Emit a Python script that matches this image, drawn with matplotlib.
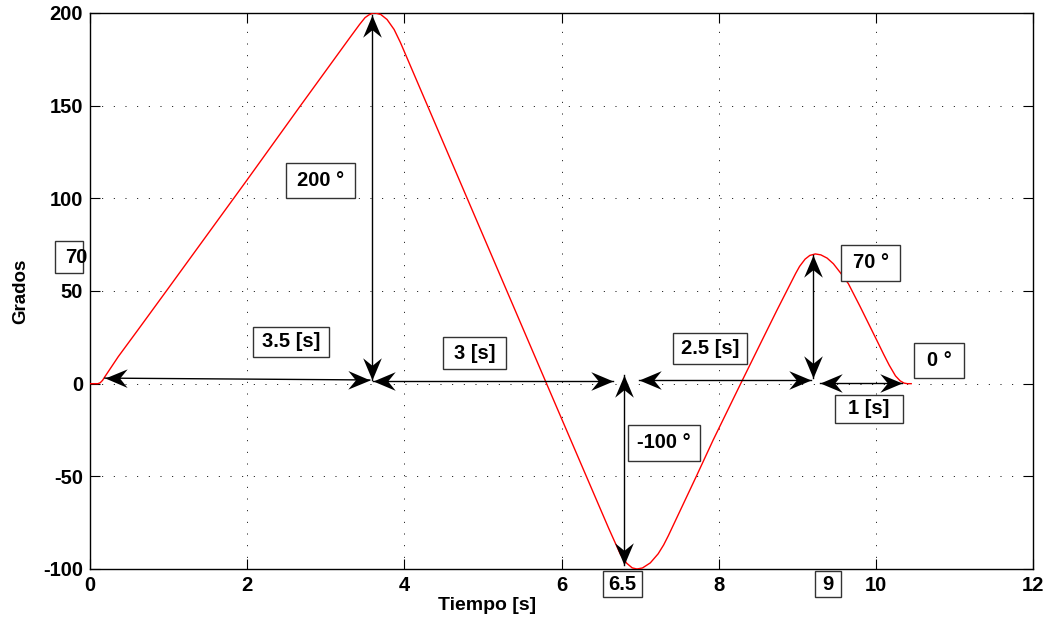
import numpy as np
import matplotlib
matplotlib.use("Agg")
import matplotlib.pyplot as plt
from matplotlib.path import Path
from matplotlib.patches import Rectangle

plt.rcParams['font.family'] = ['Liberation Sans', 'DejaVu Sans']
plt.rcParams['font.weight'] = 'bold'
plt.rcParams['axes.unicode_minus'] = False

# ---- data ----
t_curve = [0.0, 0.1, 0.13, 0.16, 0.19, 0.25, 0.36, 0.61, 0.98, 2.0, 2.67, 3.3, 3.43,
           3.5, 3.55, 3.6, 3.63, 3.7, 3.78, 3.87, 3.95, 4.05, 5.81, 6.30,
           6.6, 6.69, 6.75, 6.83, 6.9, 6.96, 7.03, 7.13, 7.23, 7.30, 7.36, 7.72, 7.93,
           8.28, 8.53, 8.74, 8.98, 9.03, 9.1, 9.16, 9.23, 9.3, 9.38, 9.46, 9.55,
           9.65, 9.80, 10.01, 10.1, 10.17, 10.25, 10.31, 10.36, 10.4, 10.45]
y_curve = [0.0, 0.0, 0.5, 1.8, 3.8, 7.6, 14.6, 29.0, 50.5, 110.0, 149.5, 186.3, 193.8,
           197.5, 199.0, 199.9, 200.0, 199.2, 196.5, 191.1, 184.1, 174.2, 0.0, -48.4,
           -78.0, -86.5, -92.1, -96.9, -99.4, -100.0, -99.45, -96.7, -91.8, -87.0, -82.0, -49.6, -30.4,
           0.0, 21.5, 39.5, 59.5, 63.3, 67.2, 69.2, 70.0, 69.5, 67.75, 64.7, 59.8,
           54.0, 41.6, 23.6, 15.8, 10.0, 4.2, 1.5, 0.3, 0.0, 0.0]

x_ticks = [0, 2, 4, 6, 8, 10, 12]
y_ticks = [-100, -50, 0, 50, 100, 150, 200]
x_label = "Tiempo [s]"
y_label = "Grados"

# annotation arrows: (x0, y0, x1, y1)
arrows = [
    (0.19, 3.0, 3.56, 2.0),
    (3.585, 2.0, 3.585, 199.0),
    (3.60, 1.6, 6.66, 1.6),
    (6.79, 4.7, 6.79, -97.8),
    (6.98, 2.0, 9.18, 2.0),
    (9.205, 2.9, 9.205, 69.4),
    (9.29, 0.5, 10.33, 0.5),
]

# annotation boxes: (text, x_left, x_right, y_bottom, y_top)
boxes = [
    ("200 °", 2.494, 3.372, 100.2, 119.1),
    ("3.5 [s]", 2.074, 3.041, 14.4, 30.6),
    ("3 [s]", 4.488, 5.293, 7.8, 25.0),
    ("2.5 [s]", 7.42, 8.36, 10.6, 27.2),
    ("-100 °", 6.85, 7.76, -41.6, -22.3),
    ("70 °", 9.557, 10.31, 55.6, 74.8),
    ("0 °", 10.486, 11.12, 3.1, 22.0),
    ("1 [s]", 9.48, 10.35, -21.2, -6.1),
    ("6.5", 6.528, 7.023, -115.3, -101.0),
    ("9", 9.222, 9.555, -115.3, -101.0),
]
# left box with text overhanging
left_box = ("70", -0.445, -0.089, 59.7, 77.0, -0.178, 68.1)

fig = plt.figure(figsize=(10.49, 6.24), dpi=100)
ax = fig.add_axes([90/1049, 55/624, 943/1049, 556/624])

ax.plot(t_curve, y_curve, color='#ff0000', lw=1.0, zorder=3)

ax.set_xlim(0, 12)
ax.set_ylim(-100, 200)
ax.set_xticks(x_ticks)
ax.set_yticks(y_ticks)
ax.tick_params(direction='in', length=7, width=0.8, top=True, right=True,
               labelsize=14.5, pad=5)
for lab in ax.get_xticklabels() + ax.get_yticklabels():
    lab.set_fontweight('bold')
ax.grid(True, color='k', lw=0.7, linestyle=(0, (1, 11)))
for sp in ax.spines.values():
    sp.set_linewidth(1.0)
ax.set_xlabel(x_label, fontsize=14, fontweight='bold')
ax.set_ylabel(y_label, fontsize=13.5, fontweight='bold')
ax.xaxis.set_label_coords(0.421, -0.050)
ax.yaxis.set_label_coords(-0.064, 0.5)

fig.canvas.draw()

head = np.array([(0, 0), (-1, 0.42), (-0.66, 0), (-1, -0.42), (0, 0)])
codes = [Path.MOVETO, Path.LINETO, Path.LINETO, Path.LINETO, Path.CLOSEPOLY]


def head_marker(angle):
    c, s = np.cos(angle), np.sin(angle)
    R = np.array([[c, -s], [s, c]])
    return Path(head @ R.T, codes)


for (x0, y0, x1, y1) in arrows:
    ax.plot([x0, x1], [y0, y1], color='k', lw=1.0, zorder=4)
    p0 = ax.transData.transform((x0, y0))
    p1 = ax.transData.transform((x1, y1))
    ang = np.arctan2(p1[1] - p0[1], p1[0] - p0[0])
    ax.plot([x1], [y1], marker=head_marker(ang), ms=32, color='k', mew=0, zorder=5,
            clip_on=False)
    ax.plot([x0], [y0], marker=head_marker(ang + np.pi), ms=32, color='k', mew=0,
            zorder=5, clip_on=False)

for (txt, xl, xr, yb, yt) in boxes:
    ax.add_patch(Rectangle((xl, yb), xr - xl, yt - yb, facecolor='white',
                           edgecolor='0.2', lw=1.0, zorder=6, clip_on=False))
    ax.text((xl + xr) / 2, (yb + yt) / 2, txt, ha='center', va='center',
            fontsize=14.5, fontweight='bold', zorder=7, clip_on=False)

txt, xl, xr, yb, yt, tx, ty = left_box
ax.add_patch(Rectangle((xl, yb), xr - xl, yt - yb, facecolor='white',
                       edgecolor='0.2', lw=1.0, zorder=6, clip_on=False))
ax.text(tx, ty, txt, ha='center', va='center', fontsize=14.5, fontweight='bold',
        zorder=7, clip_on=False)

fig.savefig("out.png", dpi=100)
